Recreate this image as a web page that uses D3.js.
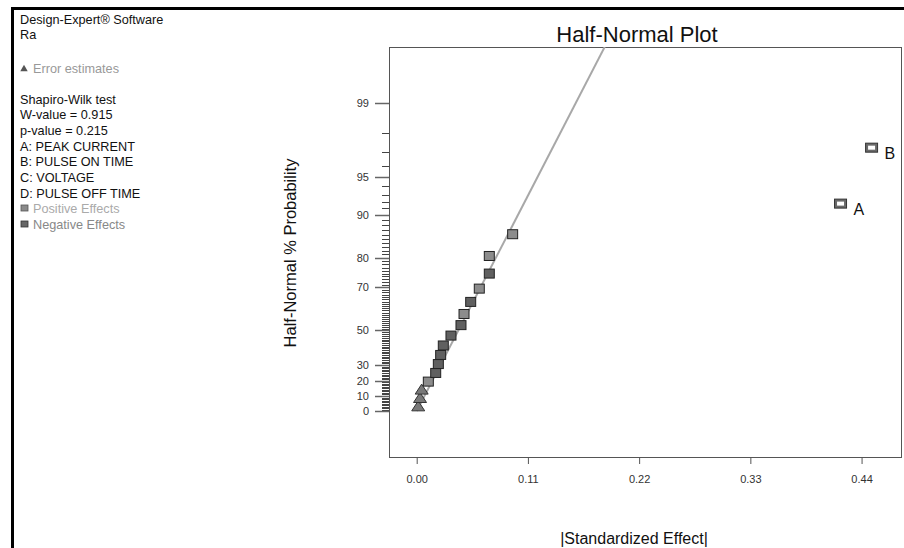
<!DOCTYPE html>
<html>
<head>
<meta charset="utf-8">
<script src="https://cdn.jsdelivr.net/npm/d3@7"></script>
<style>
  html, body { margin: 0; padding: 0; background: #fff; }
  svg { display: block; font-family: "Liberation Sans", Arial, sans-serif; }
</style>
</head>
<body>
<svg id="chart" width="904" height="548"></svg>
<script>
// ---- data ----
const probabilities = [2.78, 8.33, 13.89, 19.44, 25.0, 30.56, 36.11, 41.67, 47.22, 52.78, 58.33, 63.89, 69.44, 75.0, 80.56, 86.11, 91.67, 97.22];
const effects =       [0.0015, 0.0033, 0.0049, 0.0115, 0.0188, 0.0214, 0.0237, 0.0263, 0.0339, 0.0438, 0.0468, 0.0534, 0.0619, 0.0718, 0.0718, 0.0949, 0.4192, 0.4499];
const effectTypes =   ["error", "error", "error", "pos", "neg", "neg", "neg", "neg", "neg", "neg", "pos", "neg", "pos", "neg", "pos", "pos", "term", "term"];
const effectLabels =  ["", "", "", "", "", "", "", "", "", "", "", "", "", "", "", "", "A", "B"];
const yTickLabels = [0, 10, 20, 30, 50, 70, 80, 90, 95, 99];
const yMinorTicks = d3.range(1, 100);
const xTickValues = [0.00, 0.11, 0.22, 0.33, 0.44];
const fitLineEffect = [0, 0.186];
const fitLineProb = [0, 99.77];
const legendLines = ["Design-Expert\u00AE Software", "Ra"];
const statLines = ["Shapiro-Wilk test", "W-value = 0.915", "p-value = 0.215", "A: PEAK CURRENT", "B: PULSE ON TIME", "C: VOLTAGE", "D: PULSE OFF TIME"];

// inverse standard normal CDF (Acklam)
function qnorm(p) {
  const a = [-3.969683028665376e+01, 2.209460984245205e+02, -2.759285104469687e+02, 1.383577518672690e+02, -3.066479806614716e+01, 2.506628277459239e+00];
  const b = [-5.447609879822406e+01, 1.615858368580409e+02, -1.556989798598866e+02, 6.680131188771972e+01, -1.328068155288572e+01];
  const c = [-7.784894002430293e-03, -3.223964580411365e-01, -2.400758277161838e+00, -2.549732539343734e+00, 4.374664141464968e+00, 2.938163982698783e+00];
  const d = [7.784695709041462e-03, 3.224671290700398e-01, 2.445134137142996e+00, 3.754408661907416e+00];
  const pl = 0.02425, ph = 1 - pl;
  let q, r;
  if (p < pl) { q = Math.sqrt(-2 * Math.log(p)); return (((((c[0]*q+c[1])*q+c[2])*q+c[3])*q+c[4])*q+c[5]) / ((((d[0]*q+d[1])*q+d[2])*q+d[3])*q+1); }
  if (p <= ph) { q = p - 0.5; r = q*q; return (((((a[0]*r+a[1])*r+a[2])*r+a[3])*r+a[4])*r+a[5])*q / (((((b[0]*r+b[1])*r+b[2])*r+b[3])*r+b[4])*r+1); }
  q = Math.sqrt(-2 * Math.log(1 - p)); return -(((((c[0]*q+c[1])*q+c[2])*q+c[3])*q+c[4])*q+c[5]) / ((((d[0]*q+d[1])*q+d[2])*q+d[3])*q+1);
}
// half-normal transform of a percent
const hz = pct => qnorm(0.5 + pct / 200);

const svg = d3.select("#chart");
const plot = { left: 389, right: 901, top: 47, bottom: 457 };

const x = d3.scaleLinear().domain([-0.0274, 0.479]).range([plot.left, plot.right]);
const yZ = d3.scaleLinear().domain([-0.385, 3.047]).range([plot.bottom, plot.top]);
const y = pct => yZ(hz(pct));

// outer frame
svg.append("line").attr("x1", 12.5).attr("x2", 12.5).attr("y1", 7).attr("y2", 548).attr("stroke", "#000").attr("stroke-width", 3);
svg.append("line").attr("x1", 11).attr("x2", 904).attr("y1", 8.5).attr("y2", 8.5).attr("stroke", "#000").attr("stroke-width", 3);

// legend texts
const legend = svg.append("g").attr("font-size", 12.7);
legendLines.forEach((t, i) => legend.append("text").attr("x", 20).attr("y", [24, 39][i]).attr("fill", "#111").text(t));
legend.append("path").attr("d", d3.symbol(d3.symbolTriangle, 24)()).attr("transform", "translate(24,69)").attr("fill", "#555");
legend.append("text").attr("x", 33).attr("y", 72.5).attr("fill", "#999").text("Error estimates");
statLines.forEach((t, i) => legend.append("text").attr("x", 20).attr("y", 103.5 + i * 15.7).attr("fill", "#111").text(t));
legend.append("rect").attr("x", 21).attr("y", 205).attr("width", 7).attr("height", 6).attr("fill", "#8a8a8a").attr("stroke", "#555").attr("stroke-width", 0.8);
legend.append("text").attr("x", 33).attr("y", 212.5).attr("fill", "#aaa").text("Positive Effects");
legend.append("rect").attr("x", 21).attr("y", 221).attr("width", 7).attr("height", 6).attr("fill", "#666").attr("stroke", "#333").attr("stroke-width", 0.8);
legend.append("text").attr("x", 33).attr("y", 228.5).attr("fill", "#888").text("Negative Effects");

// title
svg.append("text").attr("x", 637).attr("y", 42).attr("text-anchor", "middle").attr("font-size", 22).attr("fill", "#111").text("Half-Normal Plot");

// plot box
svg.append("rect").attr("x", plot.left + 0.5).attr("y", plot.top + 0.5)
  .attr("width", plot.right - plot.left).attr("height", plot.bottom - plot.top)
  .attr("fill", "none").attr("stroke", "#555").attr("stroke-width", 1);

// y minor ticks
const yAxisG = svg.append("g");
yAxisG.selectAll("line.minor").data(yMinorTicks.filter(v => !yTickLabels.includes(v))).enter()
  .append("line").attr("class", "minor")
  .attr("x1", plot.left - 7).attr("x2", plot.left)
  .attr("y1", d => Math.round(y(d)) + 0.5).attr("y2", d => Math.round(y(d)) + 0.5)
  .attr("stroke", "#444").attr("stroke-width", 1);
yAxisG.selectAll("line.major").data(yTickLabels).enter()
  .append("line").attr("class", "major")
  .attr("x1", plot.left - 14).attr("x2", plot.left)
  .attr("y1", d => Math.round(y(d)) + 0.5).attr("y2", d => Math.round(y(d)) + 0.5)
  .attr("stroke", "#666").attr("stroke-width", 1.5);
yAxisG.selectAll("text").data(yTickLabels).enter()
  .append("text").attr("x", 369).attr("y", d => y(d) + 4)
  .attr("text-anchor", "end").attr("font-size", 11).attr("fill", "#333").text(d => d);

// x axis
const xAxis = d3.axisBottom(x).tickValues(xTickValues).tickFormat(d3.format(".2f")).tickSize(7).tickPadding(11);
const xg = svg.append("g").attr("transform", `translate(0,${plot.bottom})`).call(xAxis);
xg.select(".domain").remove();
xg.selectAll(".tick line").attr("stroke", "#555");
xg.selectAll(".tick text").attr("font-size", 11).attr("fill", "#333").attr("font-family", "Liberation Sans, Arial, sans-serif");

// axis titles
svg.append("text").attr("x", 634).attr("y", 544).attr("text-anchor", "middle").attr("font-size", 16).attr("fill", "#111").text("|Standardized Effect|");
svg.append("text").attr("transform", "translate(296,253) rotate(-90)").attr("text-anchor", "middle").attr("font-size", 16.5).attr("fill", "#111").text("Half-Normal % Probability");

// fitted line (clipped to plot)
svg.append("clipPath").attr("id", "clip").append("rect")
  .attr("x", plot.left).attr("y", plot.top).attr("width", plot.right - plot.left).attr("height", plot.bottom - plot.top);
const fitPts = fitLineEffect.map((e, i) => [x(e), y(fitLineProb[i])]);
svg.append("path").attr("clip-path", "url(#clip)").attr("d", d3.line()(fitPts))
  .attr("stroke", "#a8a8a8").attr("stroke-width", 2).attr("fill", "none");

// points
const pts = probabilities.map((p, i) => ({ p, e: effects[i], t: effectTypes[i], l: effectLabels[i] }));
const g = svg.append("g");
pts.forEach(d => {
  const cx = x(d.e), cy = y(d.p);
  if (d.t === "error") {
    g.append("path").attr("d", "M0,-6L6.5,4L-6.5,4Z").attr("transform", `translate(${cx},${cy})`)
      .attr("fill", "#787878").attr("stroke", "#333").attr("stroke-width", 1);
  } else if (d.t === "term") {
    g.append("rect").attr("x", cx - 6).attr("y", cy - 5).attr("width", 12).attr("height", 9)
      .attr("fill", "#6a6a6a").attr("stroke", "#333").attr("stroke-width", 1);
    g.append("rect").attr("x", cx - 3.5).attr("y", cy - 2.5).attr("width", 7).attr("height", 4)
      .attr("fill", "#fff").attr("stroke", "none");
    g.append("text").attr("x", cx + 13).attr("y", cy + 11).attr("font-size", 16).attr("fill", "#111").text(d.l);
  } else {
    g.append("rect").attr("x", cx - 5).attr("y", cy - 4.5).attr("width", 10).attr("height", 9)
      .attr("fill", d.t === "pos" ? "#8c8c8c" : "#606060").attr("stroke", "#222").attr("stroke-width", 1);
  }
});
</script>
</body>
</html>
